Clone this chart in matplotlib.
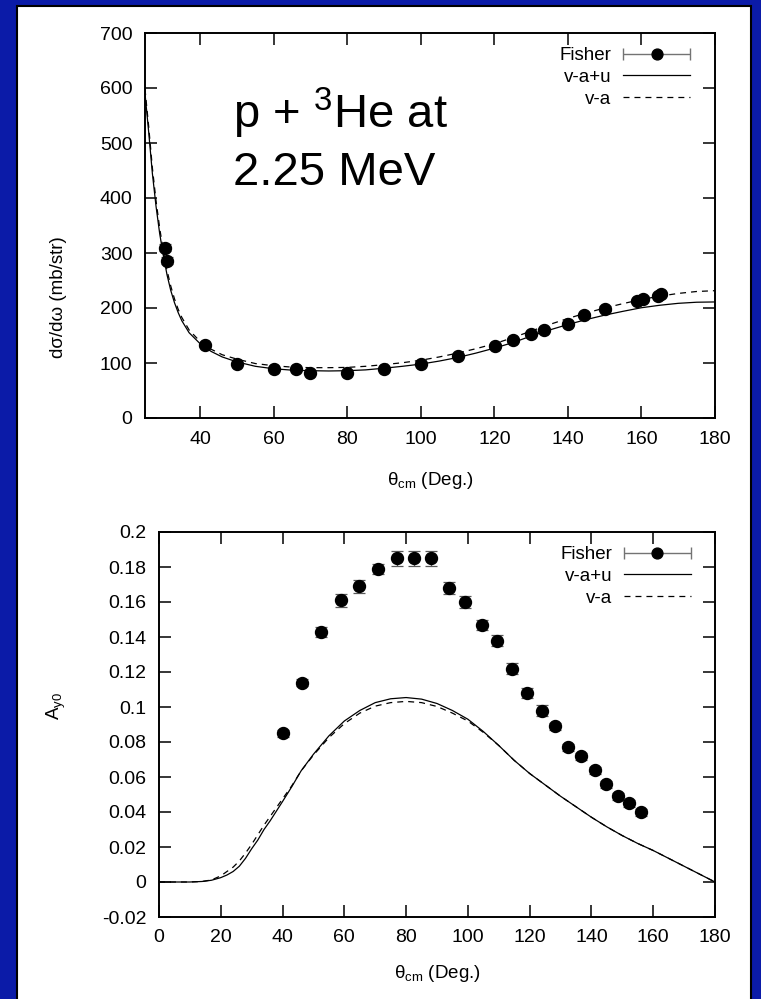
import numpy as np
import matplotlib.pyplot as plt
from matplotlib.patches import Rectangle
from matplotlib.legend_handler import HandlerErrorbar
from matplotlib.ticker import FuncFormatter, MultipleLocator

plt.rcParams['font.family'] = ['Liberation Sans', 'DejaVu Sans']
plt.rcParams['mathtext.fontset'] = 'custom'
plt.rcParams['mathtext.rm'] = 'Liberation Sans'
plt.rcParams['mathtext.it'] = 'Liberation Sans:italic'
plt.rcParams['axes.unicode_minus'] = False
plt.rcParams['lines.scale_dashes'] = False

# --- cross section panel ---
xs_theta_curve = [25, 26, 27, 28, 29, 30, 31, 32, 33, 34, 35, 37, 40, 43, 46, 50, 55, 60, 65, 70,
                  75, 80, 85, 90, 95, 100, 105, 110, 115, 120, 125, 130, 135, 140, 145, 150,
                  155, 160, 165, 170, 175, 180]
xs_vau = [590, 520, 445, 385, 335, 295, 260, 232, 210, 192, 177, 155, 135, 121, 111, 102, 94,
          89.5, 87, 86, 85.5, 86, 87.5, 90.5, 94, 98, 103.5, 110, 118, 127, 137, 149, 160, 170,
          179, 187, 194, 200.5, 205, 208.5, 210.5, 211]
xs_va = [598, 530, 455, 395, 345, 303, 268, 240, 217, 198, 183, 160, 139, 125, 115, 107, 99,
         95, 92.5, 91.5, 91.5, 92, 94, 97, 100.5, 105, 111, 118, 126, 135, 146, 158, 170, 181,
         191, 200, 208, 215.5, 221.5, 226.5, 230, 231.5]

xs_theta_data = [30.4, 30.9, 41.3, 49.9, 60.1, 66.0, 70.0, 80.0, 90.0, 100.0, 110.0, 120.1,
                 125.0, 130.1, 133.5, 140.1, 144.3, 150.1, 158.7, 160.3, 164.5, 165.3]
xs_data = [310, 286, 132, 98, 89, 89, 82, 82, 89, 98, 113, 131, 142, 153, 160, 171, 187, 199,
           213, 217, 222, 225]
xs_err = [6, 6, 3, 2, 2, 2, 2, 2, 2, 2, 2, 3, 3, 3, 3, 3, 4, 4, 4, 4, 4, 4]

# --- analyzing power panel ---
ay_theta_curve = [0, 5, 10, 14, 17, 20, 22, 24, 26, 28, 30, 32, 34, 36, 38, 40, 43, 46, 50, 55,
                  60, 65, 70, 75, 80, 85, 90, 95, 100, 105, 110, 115, 120, 125, 130, 135, 140,
                  145, 150, 155, 160, 165, 170, 175, 180]
ay_vau = [0, 0, 0, 0.0003, 0.001, 0.0025, 0.004, 0.006, 0.009, 0.0135, 0.019, 0.024, 0.030,
          0.035, 0.0405, 0.046, 0.0545, 0.0635, 0.073, 0.0835, 0.092, 0.098, 0.1025, 0.1047,
          0.1054, 0.1045, 0.102, 0.098, 0.093, 0.086, 0.078, 0.0695, 0.062, 0.0555, 0.049,
          0.043, 0.037, 0.0315, 0.0265, 0.022, 0.018, 0.0135, 0.009, 0.0045, 0.0]
ay_va = [0, 0, 0, 0.0003, 0.0012, 0.0035, 0.006, 0.0085, 0.012, 0.0165, 0.0215, 0.027, 0.0325,
         0.0375, 0.0425, 0.0475, 0.055, 0.0635, 0.0725, 0.0825, 0.0905, 0.0965, 0.1005, 0.1025,
         0.1032, 0.1025, 0.1003, 0.0965, 0.092, 0.0855, 0.078, 0.0695, 0.062, 0.0555, 0.049,
         0.043, 0.037, 0.0315, 0.0265, 0.022, 0.018, 0.0135, 0.009, 0.0045, 0.0]

ay_theta_data = [40.0, 46.2, 52.4, 58.8, 64.8, 70.9, 76.9, 82.6, 88.2, 93.8, 99.2, 104.5, 109.3,
                 114.3, 119.2, 123.9, 128.2, 132.5, 136.7, 141.0, 144.8, 148.6, 152.3, 156.2]
ay_data = [0.085, 0.114, 0.143, 0.161, 0.169, 0.179, 0.185, 0.185, 0.185, 0.168, 0.160, 0.147,
           0.138, 0.122, 0.108, 0.098, 0.089, 0.077, 0.072, 0.064, 0.056, 0.049, 0.045, 0.040]
ay_err = [0.002, 0.002, 0.003, 0.0037, 0.0037, 0.003, 0.0042, 0.0042, 0.0042, 0.0037, 0.0037,
          0.003, 0.003, 0.003, 0.003, 0.003, 0.002, 0.002, 0.002, 0.002, 0.002, 0.002, 0.002,
          0.002]

W, H = 761, 999
fig = plt.figure(figsize=(W / 100, H / 100), dpi=100, facecolor='#0b1ba8')
fig.add_artist(Rectangle((17 / W, -0.01), (751 - 17) / W, 1.01 - 6 / H,
                         transform=fig.transFigure, facecolor='white',
                         edgecolor='black', lw=1.5, zorder=0))

ax1 = fig.add_axes([145 / W, 1 - 418 / H, 570 / W, 385 / H])
ax2 = fig.add_axes([159 / W, 1 - 917 / H, 556 / W, 385 / H])

gfmt = FuncFormatter(lambda v, p: f'{round(v, 6) + 0.0:g}')


def draw_panel(ax, tc, solid, dashed, td, d, e):
    l1, = ax.plot(tc, solid, color='black', lw=0.9)
    l2, = ax.plot(tc, dashed, color='black', lw=0.9, dashes=(4.3, 3.6))
    ax.errorbar(td, d, yerr=e, fmt='o', color='black', ms=8.6, ecolor='0.35',
                elinewidth=0.9, capsize=4, capthick=0.9, zorder=3)
    proxy = ax.errorbar([np.nan], [np.nan], xerr=[1], fmt='o', color='black', ms=7.8,
                        ecolor='0.45', elinewidth=1.0, capsize=4.5, capthick=1.0)
    leg = ax.legend([proxy, l1, l2], ['Fisher', 'v-a+u', 'v-a'],
                    handler_map={proxy: HandlerErrorbar(xerr_size=1.78)},
                    loc='upper right', bbox_to_anchor=(0.956, 0.9636),
                    frameon=False, markerfirst=False, fontsize=13.5,
                    handlelength=3.55, handletextpad=0.64, labelspacing=0.25,
                    borderpad=0, borderaxespad=0)
    for sp in ax.spines.values():
        sp.set_linewidth(1.4)
    ax.tick_params(direction='in', length=8.5, width=1.1, top=True, right=True,
                   labelsize=14, pad=9)
    ax.xaxis.set_major_locator(MultipleLocator(20))
    ax.xaxis.set_major_formatter(gfmt)
    ax.yaxis.set_major_formatter(gfmt)
    return leg


draw_panel(ax1, xs_theta_curve, xs_vau, xs_va, xs_theta_data, xs_data, xs_err)
ax1.set_xlim(25, 180)
ax1.set_ylim(0, 700)
ax1.yaxis.set_major_locator(MultipleLocator(100))
ax1.set_xlabel('θ$_{\\mathrm{cm}}$ (Deg.)', fontsize=13.5)
ax1.xaxis.set_label_coords(0.5, -0.135)
ax1.set_ylabel('dσ/dω (mb/str)', fontsize=13.5)
ax1.yaxis.set_label_coords(-0.137, 0.314)
ax1.text(0.154, 0.753, 'p + $^{3}$He at', transform=ax1.transAxes, fontsize=34,
         va='baseline', ha='left')
ax1.text(0.154, 0.605, '2.25 MeV', transform=ax1.transAxes, fontsize=34,
         va='baseline', ha='left')

draw_panel(ax2, ay_theta_curve, ay_vau, ay_va, ay_theta_data, ay_data, ay_err)
ax2.set_xlim(0, 180)
ax2.set_ylim(-0.02, 0.2)
ax2.yaxis.set_major_locator(MultipleLocator(0.02))
ax2.set_xlabel('θ$_{\\mathrm{cm}}$ (Deg.)', fontsize=13.5)
ax2.xaxis.set_label_coords(0.5, -0.12)
ax2.set_ylabel('A$_{\\mathrm{y0}}$', fontsize=13.5)
ax2.yaxis.set_label_coords(-0.164, 0.548)

fig.savefig('out.png', dpi=100, facecolor=fig.get_facecolor())
